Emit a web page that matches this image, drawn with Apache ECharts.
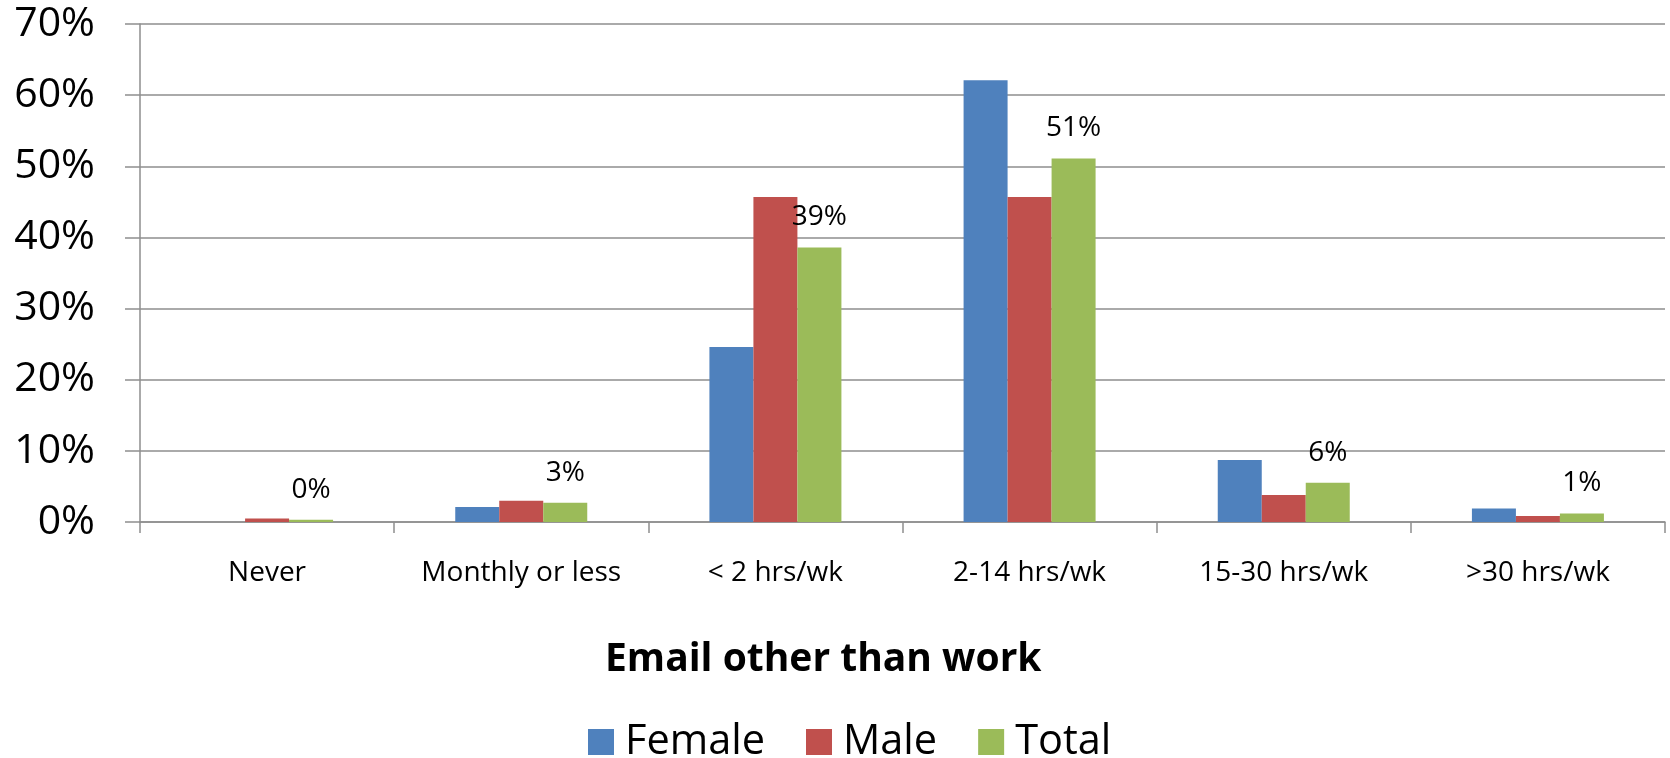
<!DOCTYPE html>
<html>
<head>
<meta charset="utf-8">
<script src="https://cdn.jsdelivr.net/npm/echarts@6/dist/echarts.min.js"></script>
<style>
html,body{margin:0;padding:0;background:#fff;}
#chart{width:1670px;height:758px;}
</style>
</head>
<body>
<div id="chart"></div>
<script>
const categories = ['Never', 'Monthly or less', '< 2 hrs/wk', '2-14 hrs/wk', '15-30 hrs/wk', '>30 hrs/wk'];
const female = [0, 2.1, 24.6, 62.1, 8.7, 1.9];
const male = [0.5, 3.0, 45.7, 45.7, 3.8, 0.85];
const total = [0.3, 2.7, 38.6, 51.1, 5.5, 1.2];
const yTicks = { min: 0, max: 70, interval: 10 };
const titleText = 'Email other than work';

const FONT = 'Open Sans';
const chart = echarts.init(document.getElementById('chart'), null, { renderer: 'canvas' });

function barSeries(name, data, color, withLabel) {
  return {
    name: name,
    type: 'bar',
    data: data,
    barWidth: 44,
    barGap: '0%',
    itemStyle: { color: color },
    label: withLabel ? {
      show: true,
      position: 'top',
      distance: 16,
      color: '#000',
      fontFamily: FONT,
      fontSize: 28,
      formatter: p => Math.round(p.value) + '%'
    } : { show: false },
    emphasis: { disabled: true }
  };
}

chart.setOption({
  animation: false,
  backgroundColor: '#fff',
  title: {
    text: titleText,
    left: 600,
    top: 635,
    textStyle: { fontFamily: FONT, fontWeight: 'bold', fontSize: 39, color: '#000' }
  },
  legend: {
    data: ['Female', 'Male', 'Total'],
    left: 583,
    top: 716,
    itemWidth: 26,
    itemHeight: 26,
    itemGap: 41,
    icon: 'rect',
    textStyle: { fontFamily: FONT, fontSize: 41.5, color: '#000', padding: [0, 0, 0, 6] }
  },
  grid: { left: 140, right: 5, top: 24, bottom: 236, containLabel: false },
  xAxis: {
    type: 'category',
    data: categories,
    boundaryGap: true,
    axisLine: { show: true, lineStyle: { color: '#8e8e8e', width: 1.5 } },
    axisTick: { show: true, length: 11, lineStyle: { color: '#8e8e8e', width: 1.5 } },
    axisLabel: { margin: 37, fontFamily: FONT, fontSize: 28, color: '#000', interval: 0 },
    splitLine: { show: false }
  },
  yAxis: {
    type: 'value',
    min: yTicks.min,
    max: yTicks.max,
    interval: yTicks.interval,
    axisLine: { show: true, lineStyle: { color: '#8e8e8e', width: 1.5 } },
    axisTick: { show: true, length: 15, lineStyle: { color: '#8e8e8e', width: 1.5 } },
    axisLabel: { margin: 45, fontFamily: FONT, fontSize: 41, color: '#000', formatter: '{value}%' },
    splitLine: { show: true, lineStyle: { color: '#8e8e8e', width: 1.5 } }
  },
  series: [
    barSeries('Female', female, '#4F81BD', false),
    barSeries('Male', male, '#C0504D', false),
    barSeries('Total', total, '#9BBB59', true)
  ]
});
</script>
</body>
</html>
